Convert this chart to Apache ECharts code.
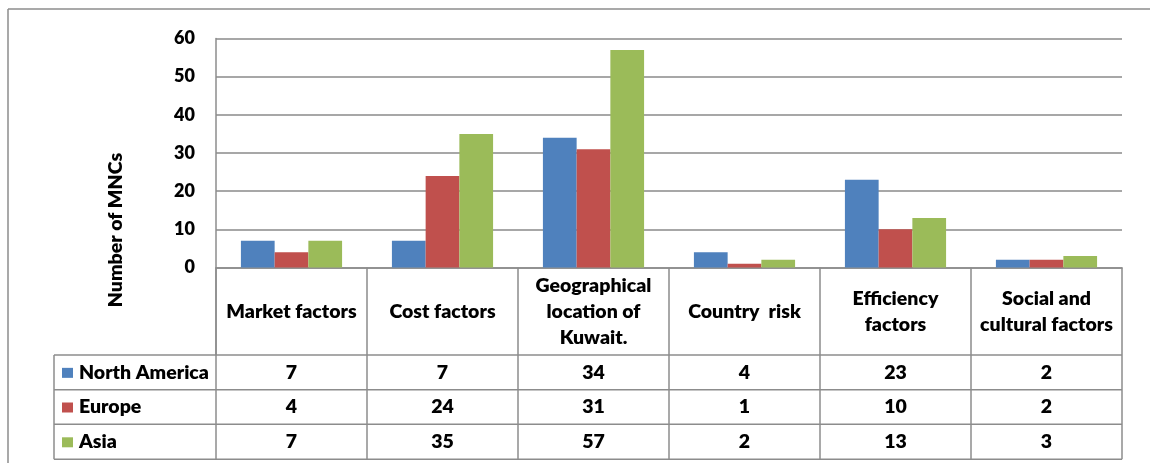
<!DOCTYPE html>
<html>
<head>
<meta charset="utf-8">
<script src="https://cdn.jsdelivr.net/npm/echarts@6/dist/echarts.min.js"></script>
<style>
  html, body { margin: 0; padding: 0; background: #ffffff; }
  #chart { width: 1150px; height: 463px; }
</style>
</head>
<body>
<div id="chart"></div>
<script>
// Location factors by region of origin of the MNCs
const categories = [
  'Market factors',
  'Cost factors',
  'Geographical\nlocation of\nKuwait.',
  'Country  risk',
  'Efficiency\nfactors',
  'Social and\ncultural factors'
];
const seriesNames = ['North America', 'Europe', 'Asia'];
const northAmerica = [7, 7, 34, 4, 23, 2];
const europe = [4, 24, 31, 1, 10, 2];
const asia = [7, 35, 57, 2, 13, 3];
const seriesColors = ['#4F81BD', '#C0504D', '#9BBB59'];
const yAxisTitle = 'Number of MNCs';

const seriesValues = [northAmerica, europe, asia];

// layout of the plot and the data table below it
const FONT = 'Lato, "Liberation Sans", sans-serif';
const WEIGHT = 800;
const TEXT_SIZE = 19.5;
const LINE = '#8c8c8c';
const plotLeft = 216, plotRight = 1122, plotTop = 38.5, plotBottom = 267.5;
const labelRowBottom = 355;
const rowEdges = [355, 389.7, 424.3, 459.3];
const legendLeft = 54;

const chart = echarts.init(document.getElementById('chart'), null, { renderer: 'canvas' });

chart.setOption({
  animation: false,
  backgroundColor: '#ffffff',
  grid: {
    left: plotLeft,
    right: 1150 - plotRight,
    top: plotTop,
    bottom: 463 - plotBottom
  },
  xAxis: {
    type: 'category',
    data: categories,
    axisLine: { show: true, lineStyle: { color: LINE, width: 1.5 } },
    axisTick: {
      show: true,
      alignWithLabel: false,
      length: labelRowBottom - plotBottom,
      lineStyle: { color: LINE, width: 1.5 }
    },
    axisLabel: {
      interval: 0,
      margin: (labelRowBottom - plotBottom) / 2,
      verticalAlign: 'middle',
      align: 'center',
      color: '#000',
      fontFamily: FONT,
      fontWeight: WEIGHT,
      fontSize: TEXT_SIZE,
      lineHeight: 26
    },
    splitLine: { show: false }
  },
  yAxis: {
    type: 'value',
    min: 0,
    max: 60,
    interval: 10,
    axisLine: { show: true, lineStyle: { color: LINE, width: 1.5 } },
    axisTick: { show: false },
    axisLabel: {
      margin: 21,
      color: '#000',
      fontFamily: FONT,
      fontWeight: WEIGHT,
      fontSize: 18
    },
    splitLine: { show: true, lineStyle: { color: '#8a8a8a', width: 1.5 } }
  },
  series: seriesNames.map((name, i) => ({
    name: name,
    type: 'bar',
    data: seriesValues[i],
    barGap: '0%',
    barCategoryGap: '33%',
    itemStyle: { color: seriesColors[i] }
  }))
});

// data table, legend keys, frame and axis title
function buildGraphics() {
  const g = [];
  const lineStyle = { stroke: LINE, lineWidth: 1.5 };
  const font = WEIGHT + ' ' + TEXT_SIZE + 'px ' + FONT;
  const n = categories.length;
  const half = (chart.convertToPixel({ xAxisIndex: 0 }, 1) - chart.convertToPixel({ xAxisIndex: 0 }, 0)) / 2;
  const centers = categories.map((c, i) => chart.convertToPixel({ xAxisIndex: 0 }, i));
  const bounds = [centers[0] - half].concat(centers.map(c => c + half));

  // outer frame
  g.push({ type: 'line', shape: { x1: 8, y1: 9, x2: 1150, y2: 9 }, style: lineStyle, silent: true });
  g.push({ type: 'line', shape: { x1: 8, y1: 9, x2: 8, y2: 463 }, style: lineStyle, silent: true });

  // axis title
  g.push({
    type: 'text', x: 116, y: 230, rotation: Math.PI / 2,
    style: { text: yAxisTitle, fill: '#000', font: font, align: 'center', verticalAlign: 'middle' },
    silent: true
  });

  // table grid lines
  rowEdges.forEach(y => {
    g.push({ type: 'line', shape: { x1: legendLeft, y1: y, x2: bounds[n], y2: y }, style: lineStyle, silent: true });
  });
  g.push({ type: 'line', shape: { x1: legendLeft, y1: rowEdges[0], x2: legendLeft, y2: rowEdges[3] }, style: lineStyle, silent: true });
  g.push({ type: 'line', shape: { x1: bounds[0], y1: plotBottom, x2: bounds[0], y2: rowEdges[3] }, style: lineStyle, silent: true });
  for (let k = 1; k <= n; k++) {
    g.push({ type: 'line', shape: { x1: bounds[k], y1: rowEdges[0], x2: bounds[k], y2: rowEdges[3] }, style: lineStyle, silent: true });
  }

  // rows: legend key, series name, values
  seriesNames.forEach((name, r) => {
    const yMid = (rowEdges[r] + rowEdges[r + 1]) / 2;
    g.push({
      type: 'rect', shape: { x: 62, y: yMid - 4.5, width: 11, height: 10 },
      style: { fill: seriesColors[r] }, silent: true
    });
    g.push({
      type: 'text', x: 79, y: yMid,
      style: { text: name, fill: '#000', font: font, align: 'left', verticalAlign: 'middle' },
      silent: true
    });
    seriesValues[r].forEach((v, i) => {
      g.push({
        type: 'text', x: centers[i], y: yMid,
        style: { text: String(v), fill: '#000', font: font, align: 'center', verticalAlign: 'middle' },
        silent: true
      });
    });
  });
  return g;
}

chart.setOption({ graphic: buildGraphics() });
</script>
</body>
</html>
